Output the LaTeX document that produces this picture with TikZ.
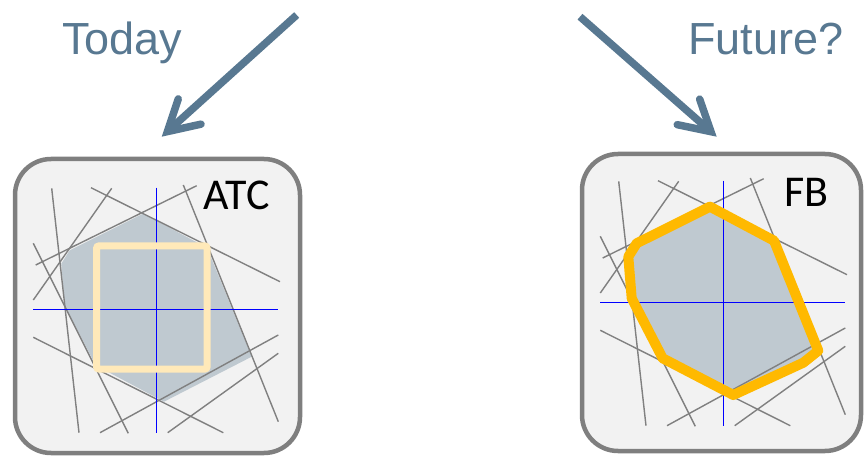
\documentclass[tikz,border=0pt]{standalone}
\usepackage{fontspec}
\newfontfamily\headfont{Liberation Sans}
\newfontfamily\tagfont{Carlito}
\usetikzlibrary{arrows.meta}
\definecolor{slate}{RGB}{88,120,145}
\definecolor{panelfill}{RGB}{242,242,242}
\definecolor{panelline}{RGB}{127,127,127}
\definecolor{region}{RGB}{191,201,208}
\definecolor{boxcol}{RGB}{255,233,185}
\definecolor{hullcol}{RGB}{255,185,0}
\tikzset{
  panel/.style={rectangle, draw=panelline, fill=panelfill, line width=4.5pt, rounded corners=36pt, inner sep=0pt},
  heading/.style={anchor=base west, inner sep=0pt, text=slate, font=\headfont\fontsize{45}{54}\selectfont},
  tag/.style={anchor=base, inner sep=0pt, font=\tagfont\fontsize{44}{52}\selectfont},
  trend/.style={draw=slate, line width=7.5pt, -{Straight Barb[length=30pt, width=34pt, line cap=round, line join=miter]}},
  cut/.style={draw=gray, line width=1.4pt},
  axis/.style={draw=blue, line width=1pt},
  atcbox/.style={draw=boxcol, line width=7pt, rounded corners=2pt},
  fbhull/.style={draw=hullcol, fill=region, line width=10pt, line join=round}
}

\begin{document}
\begin{tikzpicture}[x=1pt, y=-1pt]
  \useasboundingbox (0,0) rectangle (865,457);
  \node[panel, minimum width=285pt, minimum height=294pt] (atcpanel) at (157.5,306) {};
  \node[panel, minimum width=279pt, minimum height=297pt] (fbpanel) at (721.5,302.5) {};
  \fill[region] (143,213.7) -- (207,247.7) -- (251.7,356.7) -- (164,401.7)
    -- (95.7,365.3) -- (64.7,305.3) -- (61.3,263.7) -- (69.7,250.3) -- cycle;
  \begin{scope}[shift={(567,-7)}]
    \fill[region] (143,213.7) -- (207,247.7) -- (251.3,357.7) -- (236.3,369.7) -- (166.3,402)
      -- (95.7,365.3) -- (64.7,305.3) -- (61.3,263.7) -- (69.7,250.3) -- cycle;
  \end{scope}
  % same constraint set in both panels
  \foreach \dx/\dy in {0/0, 567/-7} {
    \begin{scope}[shift={(\dx,\dy)}]
      \foreach \ax/\ay/\bx/\by in {51.7/188.3/79/432.7, 91/187.7/280/281.7, 111.7/188.3/33.3/300,
          196.7/185.7/35.7/265, 183.3/185/278.3/421.7, 33.3/243.3/128.3/433.3,
          33.3/337.3/223.3/432.7, 100/432.7/278.3/335, 167.7/432.7/278.3/353.3}
        \draw[cut] (\ax,\ay) -- (\bx,\by);
      \draw[axis] (156.7,187.7) -- (156.7,432.7);
      \draw[axis] (33,309.3) -- (278,309.3);
    \end{scope}
  }
  \draw[atcbox] (96.7,246) rectangle (207,369);
  \begin{scope}[shift={(567,-7)}]
    \draw[fbhull, fill=none] (143,213.7) -- (207,247.7) -- (251.3,357.7) -- (236.3,369.7) -- (166.3,402)
      -- (95.7,365.3) -- (64.7,305.3) -- (61.3,263.7) -- (69.7,250.3) -- cycle;
  \end{scope}

  \node[tag] (atc) at (236.7,210) {ATC};
  \node[tag] (fb) at (806.7,206.7) {FB};
  \node[heading] (today) at (62,55) {Today};
  \node[heading] (future) at (688,55) {Future?};

  \coordinate (todaytail) at (296.7,15);
  \coordinate (todaytip) at (161.7,136.7);
  \coordinate (futuretail) at (580,16.7);
  \coordinate (futuretip) at (716.7,136.7);
  \draw[trend] (todaytail) -- (todaytip);
  \draw[trend] (futuretail) -- (futuretip);
\end{tikzpicture}
\end{document}
